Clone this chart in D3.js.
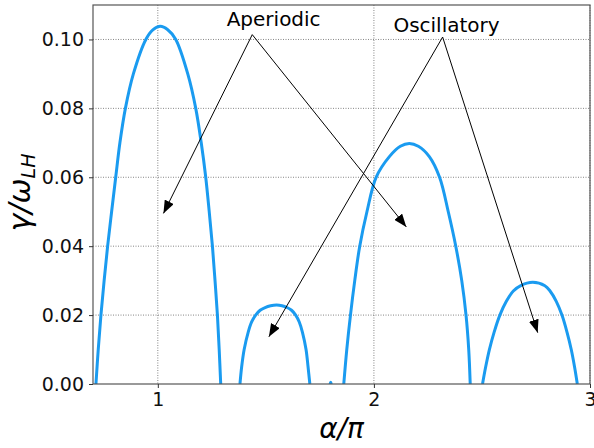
<!DOCTYPE html>
<html>
<head>
<meta charset="utf-8">
<script src="https://cdn.jsdelivr.net/npm/d3@7"></script>
<style>
  body { margin: 0; background: #fff; }
  text { font-family: "DejaVu Sans", sans-serif; }
</style>
</head>
<body>
<div id="chart"></div>
<script>
// values: alpha/pi and gamma/omega_LH per hump
var hump1X = [0.7136, 0.7242, 0.7367, 0.7515, 0.7677, 0.7861, 0.8051, 0.8245, 0.8499, 0.8868, 0.9446, 0.9769, 1.0115, 1.046, 1.083, 1.1386, 1.1755, 1.2009, 1.2217, 1.2379, 1.2527, 1.2647, 1.2758, 1.284, 1.291]
var hump1Y = [0, 0.01, 0.02, 0.03, 0.04, 0.05, 0.06, 0.07, 0.08, 0.09, 0.10, 0.1028, 0.1038, 0.1028, 0.10, 0.09, 0.08, 0.07, 0.06, 0.05, 0.04, 0.03, 0.02, 0.01, 0]
var hump2X = [1.3801, 1.3880, 1.3995, 1.4180, 1.4342, 1.4527, 1.4734, 1.4965, 1.5219, 1.5497, 1.5746, 1.5977, 1.6189, 1.6379, 1.6545, 1.6693, 1.6859, 1.6952, 1.7035]
var hump2Y = [0, 0.005, 0.01, 0.015, 0.018, 0.02, 0.0214, 0.0222, 0.0227, 0.0229, 0.0227, 0.0222, 0.0214, 0.02, 0.018, 0.015, 0.01, 0.005, 0]
var blipX = [1.797, 1.800, 1.803]
var blipY = [0, 0.0005, 0]
var hump3X = [1.8605, 1.8744, 1.8915, 1.9113, 1.9344, 1.9677, 2.0102, 2.0716, 2.1224, 2.164, 2.2055, 2.2564, 2.3039, 2.3441, 2.3788, 2.4065, 2.4263, 2.4388, 2.4457]
var hump3Y = [0, 0.01, 0.02, 0.03, 0.04, 0.05, 0.06, 0.066, 0.069, 0.0698, 0.069, 0.066, 0.06, 0.05, 0.04, 0.03, 0.02, 0.01, 0]
var hump4X = [2.5026, 2.5173, 2.5344, 2.5561, 2.5829, 2.6129, 2.6453, 2.6776, 2.7353, 2.7912, 2.8152, 2.8439, 2.8702, 2.8938, 2.9132, 2.9284, 2.9413]
var hump4Y = [0, 0.005, 0.01, 0.015, 0.02, 0.024, 0.027, 0.0285, 0.0295, 0.0285, 0.027, 0.024, 0.02, 0.015, 0.01, 0.005, 0]

var xTicks = [1, 2, 3]
var yTicks = [0, 0.02, 0.04, 0.06, 0.08, 0.10]

// annotations: label, text anchor, arrow start, arrow tips (data coords)
var noteLabels = ["Aperiodic", "Oscillatory"]
var noteText = [[1.536, 0.1038], [2.336, 0.1021]]
var noteFrom = [[1.437, 0.1014], [2.318, 0.1007]]
var noteTips = [[[1.026, 0.0495], [2.150, 0.0456]], [[1.514, 0.0137], [2.758, 0.0149]]]

;(function () {

  var margin = { top: 5, right: 4, bottom: 64, left: 93 }

  var width = 594 - margin.left - margin.right,
      height = 448 - margin.top - margin.bottom

  var svg = d3.select("#chart").append("svg")
      .attr("width", width + margin.left + margin.right)
      .attr("height", height + margin.top + margin.bottom)
      .append("g")
      .attr("transform", "translate(" + margin.left + "," + margin.top + ")")

  var xPositionScale = d3.scaleLinear()
      .domain([0.7, 3.0])
      .range([0, width])

  var yPositionScale = d3.scaleLinear()
      .domain([0, 0.11])
      .range([height, 0])

  svg.append("defs").append("clipPath").attr("id", "plot-clip")
    .append("rect").attr("width", width).attr("height", height)

  svg.select("defs").append("marker")
      .attr("id", "head")
      .attr("markerUnits", "userSpaceOnUse")
      .attr("viewBox", "0 0 13 10")
      .attr("refX", 13).attr("refY", 5)
      .attr("markerWidth", 13).attr("markerHeight", 10)
      .attr("orient", "auto")
    .append("path")
      .attr("d", "M0,0L13,5L0,10Z")
      .attr("fill", "#000")

  // grid
  svg.selectAll(".vgrid").data(xTicks)
    .enter().append("line")
    .attr("x1", function (d) { return xPositionScale(d) })
    .attr("x2", function (d) { return xPositionScale(d) })
    .attr("y1", 0).attr("y2", height)
    .attr("stroke", "#777").attr("stroke-width", 0.9).attr("stroke-dasharray", "1,1.5")

  svg.selectAll(".hgrid").data(yTicks.slice(1))
    .enter().append("line")
    .attr("y1", function (d) { return yPositionScale(d) })
    .attr("y2", function (d) { return yPositionScale(d) })
    .attr("x1", 0).attr("x2", width)
    .attr("stroke", "#777").attr("stroke-width", 0.9).attr("stroke-dasharray", "1,1.5")

  // curves
  var humps = [[hump1X, hump1Y], [hump2X, hump2Y], [blipX, blipY], [hump3X, hump3Y], [hump4X, hump4Y]]

  var line = d3.line()
      .x(function (d) { return xPositionScale(d[0]) })
      .y(function (d) { return yPositionScale(d[1]) })
      .curve(d3.curveCatmullRom.alpha(0.5))

  svg.append("g").attr("clip-path", "url(#plot-clip)")
    .selectAll("path").data(humps)
    .enter().append("path")
    .attr("d", function (h) { return line(d3.zip(h[0], h[1])) })
    .attr("fill", "none")
    .attr("stroke", "#1a9bf0")
    .attr("stroke-width", 3)

  // frame + axes
  svg.append("rect")
    .attr("width", width).attr("height", height)
    .attr("fill", "none").attr("stroke", "#555").attr("stroke-width", 1.2)

  var xAxis = d3.axisBottom(xPositionScale)
      .tickValues(xTicks).tickFormat(d3.format("d"))
      .tickSize(4).tickPadding(5)
  var yAxis = d3.axisLeft(yPositionScale)
      .tickValues(yTicks).tickFormat(d3.format(".2f"))
      .tickSize(4).tickPadding(5)

  svg.append("g").attr("transform", "translate(0," + height + ")").call(xAxis)
  svg.append("g").call(yAxis)

  svg.selectAll(".domain").remove()
  svg.selectAll(".tick line").attr("stroke", "#333")
  svg.selectAll(".tick text")
    .attr("font-family", "DejaVu Sans")
    .attr("font-size", 19)
    .attr("fill", "#111")

  // axis labels
  svg.append("text")
    .attr("x", width / 2).attr("y", 433)
    .attr("text-anchor", "middle")
    .attr("font-size", 28).attr("font-style", "italic")
    .text("α/π")

  var yl = svg.append("text")
    .attr("transform", "translate(" + (30 - margin.left) + "," + (height / 2 - 2) + ") rotate(-90)")
    .attr("text-anchor", "middle")
    .attr("font-size", 30).attr("font-style", "italic")
  yl.append("tspan").text("γ/ω")
  yl.append("tspan").attr("font-size", 19).attr("dy", 5).text("LH")

  // annotations
  noteLabels.forEach(function (lab, i) {
    noteTips[i].forEach(function (tip) {
      svg.append("line")
        .attr("x1", xPositionScale(noteFrom[i][0]))
        .attr("y1", yPositionScale(noteFrom[i][1]))
        .attr("x2", xPositionScale(tip[0]))
        .attr("y2", yPositionScale(tip[1]))
        .attr("stroke", "#000").attr("stroke-width", 1)
        .attr("marker-end", "url(#head)")
    })
    svg.append("text")
      .attr("x", xPositionScale(noteText[i][0]))
      .attr("y", yPositionScale(noteText[i][1]))
      .attr("text-anchor", "middle")
      .attr("font-size", 20)
      .text(lab)
  })

})()
</script>
</body>
</html>
